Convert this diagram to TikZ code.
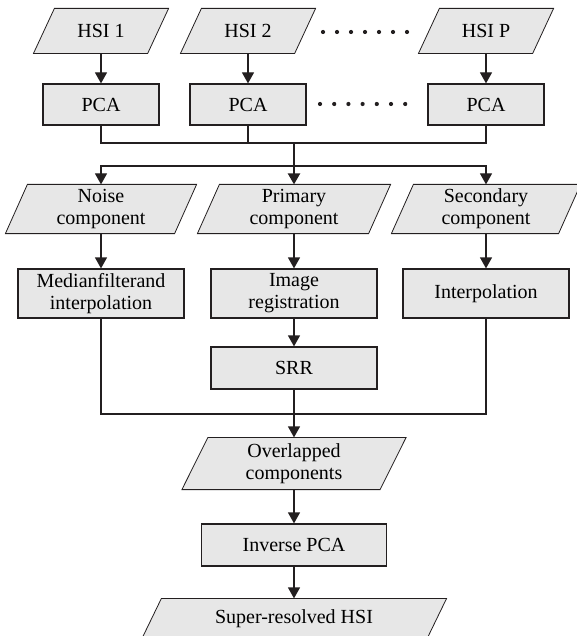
\documentclass[tikz,border=0pt]{standalone}
\usepackage{fontspec}
\setmainfont{Liberation Serif}
\usetikzlibrary{arrows.meta,backgrounds}
\definecolor{boxfill}{RGB}{231,231,231}
\definecolor{inkline}{RGB}{35,31,32}

\begin{document}
\begin{tikzpicture}[x=0.5pt, y=-0.5pt, line width=0.6pt, draw=inkline,
  every node/.style={font=\fontsize{10}{11}\selectfont, align=center, inner sep=1pt},
  procbox/.style 2 args={rectangle, draw=inkline, fill=boxfill, minimum width=#1*0.5pt, minimum height=#2*0.5pt},
  databox/.style 2 args={rectangle, minimum width=#1*0.5pt, minimum height=#2*0.5pt},
  flow/.style={-{Triangle[length=5.5pt, width=6pt]}}]

\useasboundingbox (0,0) rectangle (577,636);

\node[databox={113}{44}] (hone) at (101,31) {HSI 1};
\node[databox={113}{44}] (htwo) at (248,31) {HSI 2};
\node[databox={113}{44}] (hp) at (486,31) {HSI P};

\node[procbox={116}{41}] (pone) at (101,104.5) {PCA};
\node[procbox={116}{41}] (ptwo) at (248,104.5) {PCA};
\node[procbox={116}{41}] (pp) at (486,104.5) {PCA};

\foreach \i in {0,...,6} {
  \fill[inkline] (323+14*\i,32) circle (2.1);
  \fill[inkline] (320+14.2*\i,104) circle (2.1);
}

\node[databox={168}{48}] (noise) at (101,209) {Noise\\component};
\node[databox={170}{48}] (prim) at (294,209) {Primary\\component};
\node[databox={166}{48}] (sec) at (486,209) {Secondary\\component};

\node[procbox={166}{49}] (med) at (101,293.5) {Medianfilterand\\interpolation};
\node[procbox={166}{49}] (reg) at (294,293.5) {Image\\registration};
\node[procbox={166}{49}] (interp) at (486,293.5) {Interpolation};
\node[procbox={166}{42}] (srr) at (294,368) {SRR};

\node[databox={197}{51}] (ovl) at (294,463.5) {Overlapped\\components};
\node[procbox={185}{42}] (ipca) at (294,545) {Inverse PCA};
\node[databox={284}{40}] (out) at (294,619) {Super-resolved HSI};

\begin{scope}[on background layer]
\foreach \n/\s in {hone/21, htwo/21, hp/21, noise/22, prim/22, sec/22, ovl/26, out/20}
  \filldraw[fill=boxfill, draw=inkline]
    ([xshift=-\s*0.25pt]\n.south west) -- ([xshift=-\s*0.25pt]\n.south east)
    -- ([xshift=\s*0.25pt]\n.north east) -- ([xshift=\s*0.25pt]\n.north west) -- cycle;
\end{scope}

\coordinate (join) at (294,143);
\coordinate (split) at (294,166);
\coordinate (meet) at (294,414);

\draw[flow] (hone) -- (pone);
\draw[flow] (htwo) -- (ptwo);
\draw[flow] (hp) -- (pp);

\draw (pone) |- (join) -| (pp);
\draw (ptwo) -- (ptwo |- join);
\draw[flow, line width=1.1pt] (join) -- (prim);
\draw[flow] (split) -| (noise);
\draw[flow] (split) -| (sec);

\draw[flow] (noise) -- (med);
\draw[flow] (prim) -- (reg);
\draw[flow] (sec) -- (interp);
\draw[flow] (reg) -- (srr);

\draw (med) |- (meet) -| (interp);
\draw[flow] (srr) -- (ovl);
\draw[flow] (ovl) -- (ipca);
\draw[flow] (ipca) -- (out);

\end{tikzpicture}
\end{document}
